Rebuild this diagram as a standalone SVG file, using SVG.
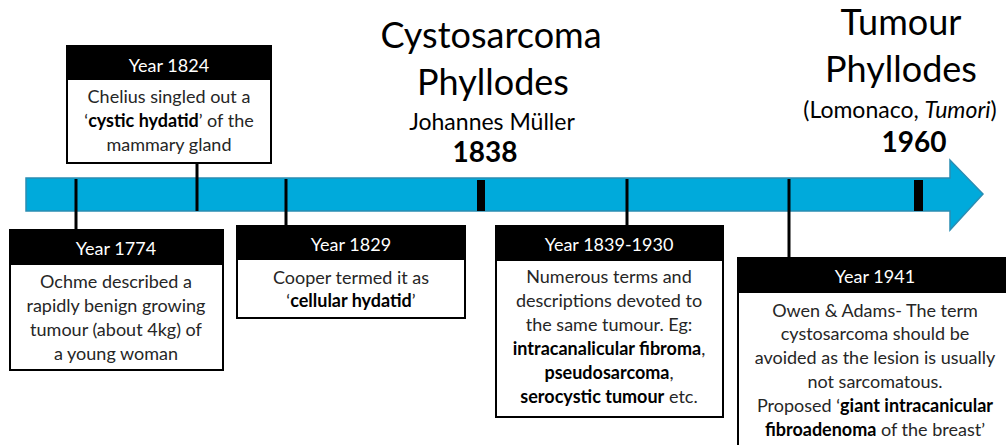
<svg xmlns="http://www.w3.org/2000/svg" width="1006" height="445" viewBox="0 0 1006 445">
<style>
text{font-family:Lato,"Liberation Sans",sans-serif;}
.title{font-size:36px;fill:#000;text-anchor:middle;}
.sub{font-size:23px;fill:#000;text-anchor:middle;}
.yr{font-size:28px;font-weight:bold;fill:#000;text-anchor:middle;}
.box{fill:#fff;stroke:#000;stroke-width:2;}
.hdr{fill:#000;}
.ht{font-size:18px;fill:#fff;text-anchor:middle;}
.bt{font-size:18px;fill:#262626;text-anchor:middle;}
.b{font-weight:bold;fill:#000;}
.tick{stroke:#000;stroke-width:3;fill:none;}
.mark{fill:#000;}
</style>
<g id="timeline">
<path d="M26,178 H950 V160 L983,194 L950,230 V211 H26 Z" fill="#00AADB" stroke="#2A8DB3" stroke-width="1.5"/>
<rect class="mark" x="477" y="180" width="8" height="31"/>
<rect class="mark" x="914" y="180" width="9" height="31"/>
</g>
<g id="connectors">
<line class="tick" x1="76" y1="179" x2="76" y2="230"/>
<line class="tick" x1="197" y1="163" x2="197" y2="211"/>
<line class="tick" x1="286" y1="179" x2="286" y2="226"/>
<line class="tick" x1="627" y1="179" x2="627" y2="226"/>
<line class="tick" x1="789" y1="179" x2="789" y2="258"/>
</g>
<g id="title-1838">
<text class="title" x="491" y="48">Cystosarcoma</text>
<text class="title" x="493" y="95">Phyllodes</text>
<text class="sub" x="492" y="130">Johannes Müller</text>
<text class="yr" x="485" y="162">1838</text>
</g>
<g id="title-1960">
<text class="title" x="901" y="35">Tumour</text>
<text class="title" x="901" y="82">Phyllodes</text>
<text class="sub" x="900" y="118">(Lomonaco, <tspan font-style="italic">Tumori</tspan>)</text>
<text class="yr" x="914" y="152">1960</text>
</g>
<g id="node-1824">
<rect class="box" x="67" y="46" width="204" height="117"/>
<rect class="hdr" x="67" y="46" width="204" height="34"/>
<text class="ht" x="169" y="72">Year 1824</text>
<text class="bt" x="169" y="103">Chelius singled out a</text>
<text class="bt" x="169" y="127">‘<tspan class="b">cystic hydatid</tspan>’ of the</text>
<text class="bt" x="169" y="151">mammary gland</text>
</g>
<g id="node-1774">
<rect class="box" x="10" y="230" width="213" height="140"/>
<rect class="hdr" x="10" y="230" width="213" height="35"/>
<text class="ht" x="116" y="255">Year 1774</text>
<text class="bt" x="116" y="288">Ochme described a</text>
<text class="bt" x="116" y="312">rapidly benign growing</text>
<text class="bt" x="116" y="336">tumour (about 4kg) of</text>
<text class="bt" x="116" y="360">a young woman</text>
</g>
<g id="node-1829">
<rect class="box" x="237" y="226" width="228" height="92"/>
<rect class="hdr" x="237" y="226" width="228" height="34"/>
<text class="ht" x="351" y="251">Year 1829</text>
<text class="bt" x="351" y="284">Cooper termed it as</text>
<text class="bt" x="351" y="307">‘<tspan class="b">cellular hydatid</tspan>’</text>
</g>
<g id="node-1839">
<rect class="box" x="496" y="226" width="227" height="191"/>
<rect class="hdr" x="496" y="226" width="227" height="35"/>
<text class="ht" x="609" y="251">Year 1839-1930</text>
<text class="bt" x="609" y="283">Numerous terms and</text>
<text class="bt" x="609" y="307">descriptions devoted to</text>
<text class="bt" x="609" y="331">the same tumour. Eg:</text>
<text class="bt" x="609" y="355"><tspan class="b">intracanalicular fibroma</tspan>,</text>
<text class="bt" x="609" y="379"><tspan class="b">pseudosarcoma</tspan>,</text>
<text class="bt" x="609" y="403"><tspan class="b">serocystic tumour</tspan> etc.</text>
</g>
<g id="node-1941">
<rect class="box" x="738" y="258" width="280" height="200"/>
<rect class="hdr" x="738" y="258" width="280" height="35"/>
<text class="ht" x="875" y="283">Year 1941</text>
<text class="bt" x="875" y="317">Owen &amp; Adams- The term</text>
<text class="bt" x="875" y="340">cystosarcoma should be</text>
<text class="bt" x="875" y="364">avoided as the lesion is usually</text>
<text class="bt" x="875" y="388">not sarcomatous.</text>
<text class="bt" x="875" y="412">Proposed ‘<tspan class="b">giant intracanicular</tspan></text>
<text class="bt" x="875" y="436"><tspan class="b">fibroadenoma</tspan> of the breast’</text>
</g>
</svg>
